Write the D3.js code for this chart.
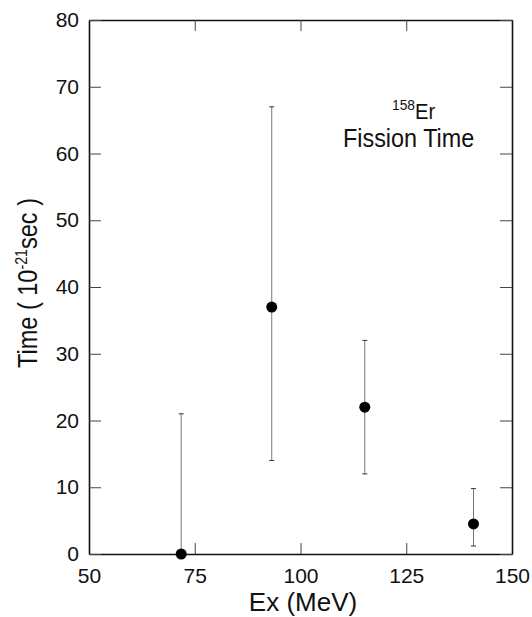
<!DOCTYPE html>
<html>
<head>
<meta charset="utf-8">
<script src="https://cdn.jsdelivr.net/npm/d3@7"></script>
<style>
  body { margin: 0; background: #fff; }
  svg text { font-family: "Liberation Sans", Arial, sans-serif; fill: #111; }
</style>
</head>
<body>
<div id="chart"></div>
<script>
// values
let energies = [71.8, 93.2, 115.2, 140.9];
let times = [0, 37, 22, 4.5];
let errLow = [0, 14, 12, 1.2];
let errHigh = [21, 67, 32, 9.8];
let xTicks = [50, 75, 100, 125, 150];
let yTicks = [0, 10, 20, 30, 40, 50, 60, 70, 80];

let dim = { width: 532, height: 617 };
let m = { left: 89, right: 20, top: 20, bottom: 63 };

let svg = d3.select('#chart').append('svg')
    .attr('width', dim.width)
    .attr('height', dim.height);

let scaleX = d3.scaleLinear()
    .domain([50, 150])
    .range([m.left, dim.width - m.right]);

let scaleY = d3.scaleLinear()
    .domain([0, 80])
    .range([dim.height - m.bottom, m.top]);

let points = energies.map((e, i) => ({ x: e, y: times[i], lo: errLow[i], hi: errHigh[i] }));

// axes, ticks pointing inward on all four sides
let axisB = svg.append('g')
    .attr('transform', `translate(0,${scaleY(0)})`)
    .call(d3.axisBottom(scaleX).tickValues(xTicks).tickSizeInner(-11).tickSizeOuter(0).tickPadding(14));
let axisT = svg.append('g')
    .attr('transform', `translate(0,${scaleY(80)})`)
    .call(d3.axisTop(scaleX).tickValues(xTicks).tickSizeInner(-11).tickSizeOuter(0).tickFormat(''));
let axisL = svg.append('g')
    .attr('transform', `translate(${scaleX(50)},0)`)
    .call(d3.axisLeft(scaleY).tickValues(yTicks).tickSizeInner(-12).tickSizeOuter(0).tickPadding(10));
let axisR = svg.append('g')
    .attr('transform', `translate(${scaleX(150)},0)`)
    .call(d3.axisRight(scaleY).tickValues(yTicks).tickSizeInner(-12).tickSizeOuter(0).tickFormat(''));

[axisB, axisT, axisL, axisR].forEach(g => {
    g.select('.domain').attr('stroke', '#111').attr('stroke-width', 1.6);
    g.selectAll('.tick line').attr('stroke', '#444').attr('stroke-width', 1);
    g.selectAll('.tick text').attr('font-size', 21).attr('fill', '#111')
        .style('font-family', '"Liberation Sans", Arial, sans-serif');
});

// error bars
let bars = svg.append('g').selectAll('g.err')
    .data(points)
    .enter().append('g').attr('class', 'err')
    .attr('stroke', '#777').attr('stroke-width', 1);
bars.append('line')
    .attr('x1', d => scaleX(d.x)).attr('x2', d => scaleX(d.x))
    .attr('y1', d => scaleY(d.lo)).attr('y2', d => scaleY(d.hi));
bars.append('line')
    .attr('x1', d => scaleX(d.x) - 2.5).attr('x2', d => scaleX(d.x) + 2.5)
    .attr('y1', d => scaleY(d.hi)).attr('y2', d => scaleY(d.hi))
    .attr('stroke', '#333');
bars.filter(d => d.lo > 0).append('line')
    .attr('x1', d => scaleX(d.x) - 2.5).attr('x2', d => scaleX(d.x) + 2.5)
    .attr('y1', d => scaleY(d.lo)).attr('y2', d => scaleY(d.lo))
    .attr('stroke', '#333');

// points
svg.append('g').selectAll('circle')
    .data(points)
    .enter().append('circle')
    .attr('cx', d => scaleX(d.x))
    .attr('cy', d => scaleY(d.y))
    .attr('r', 5.5)
    .attr('fill', '#000');

// annotation (condensed look via horizontal scale)
let note = svg.append('text')
    .attr('transform', 'translate(392,119) scale(0.92,1)')
    .attr('font-size', 22);
note.append('tspan').attr('font-size', 15).attr('dy', -9).text('158');
note.append('tspan').attr('dy', 9).text('Er');
svg.append('text')
    .attr('transform', 'translate(343,147) scale(0.9,1)')
    .attr('font-size', 26)
    .text('Fission Time');

// axis titles
svg.append('text')
    .attr('x', 303)
    .attr('y', 611)
    .attr('text-anchor', 'middle')
    .attr('font-size', 26)
    .text('Ex (MeV)');

let yTitle = svg.append('text')
    .attr('transform', 'translate(37,283) rotate(-90) scale(0.84,1)')
    .attr('text-anchor', 'middle')
    .attr('font-size', 28);
yTitle.append('tspan').text('Time  ( 10');
yTitle.append('tspan').attr('font-size', 17).attr('dy', -10).text('-21');
yTitle.append('tspan').attr('dy', 10).text('sec )');
</script>
</body>
</html>
